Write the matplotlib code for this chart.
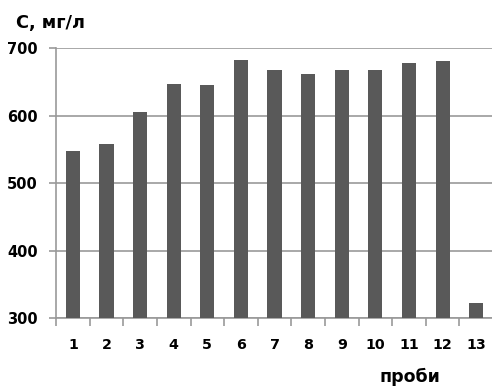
import numpy as np
from matplotlib import pyplot as plt

plt.rcParams['font.family'] = ['DejaVu Sans']
plt.rcParams['font.weight'] = 'bold'

samples = np.arange(1, 14)
values = [548, 558, 605, 646, 645, 682, 667, 662, 667, 667, 678, 680, 322]
yticks = [300, 400, 500, 600, 700]

fig = plt.figure(figsize=(4.92, 3.87), dpi=100)
ax = fig.add_axes([0.114, 0.178, 0.888, 0.698])

ax.bar(samples, np.array(values) - 300, bottom=300, width=0.42, color='#595959', zorder=3)

ax.set_xlim(0.5, 13.5)
ax.set_ylim(300, 700)
ax.set_yticks(yticks)
ax.set_xticks(samples)
ax.set_xticks(np.arange(0.5, 13.5, 1), minor=True)
ax.tick_params(axis='x', which='major', length=0, pad=14, labelsize=10.3)
ax.tick_params(axis='x', which='minor', length=6, width=1.2, color='#999999', direction='out')
ax.tick_params(axis='y', length=5, width=1.2, color='#999999', labelsize=10.5, pad=8)

ax.yaxis.grid(True, color='#999999', linewidth=1.2, zorder=0)
for s in ['top', 'right']:
    ax.spines[s].set_visible(False)
for s in ['left', 'bottom']:
    ax.spines[s].set_color('#999999')
    ax.spines[s].set_linewidth(1.2)

fig.text(0.033, 0.94, 'С, мг/л', fontsize=12.8, fontweight='bold', va='center')
fig.text(0.833, 0.025, 'проби', fontsize=12.5, fontweight='bold', ha='center', va='center')

plt.savefig('out.png', dpi=100)
plt.close()
